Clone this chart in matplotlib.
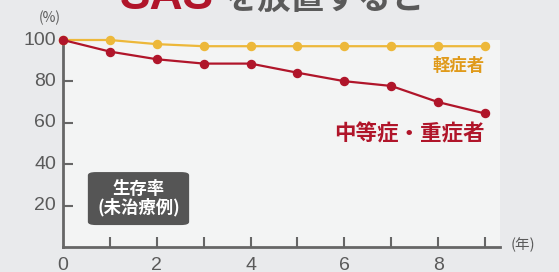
import matplotlib.pyplot as plt
from matplotlib.patches import FancyBboxPatch
import numpy as np

years = np.arange(0, 10)
mild = [100, 100, 98, 97, 97, 97, 97, 97, 97, 97]
severe = [100, 94.4, 90.7, 88.6, 88.6, 84.2, 80.1, 77.8, 70.0, 64.5]
xtick_labels = ['0', '2', '4', '6', '8']
ytick_vals = [20, 40, 60, 80, 100]

RED = '#B0152A'
YELLOW = '#EDB83A'
ORANGE = '#E09A1A'
GRAY = '#5A5A5A'
CJK = ['Noto Sans CJK JP', 'DejaVu Sans']
NUM = ['Liberation Sans', 'Noto Sans CJK JP']

fig = plt.figure(figsize=(5.59, 2.72), dpi=100, facecolor='#E9EAEC')
ax = fig.add_axes([63/559, 25/272, 437/559, 207/272])
ax.set_facecolor('#F3F4F4')

ax.plot(years, mild, color=YELLOW, lw=1.6, marker='o', ms=5.8, clip_on=False, zorder=3)
ax.plot(years, severe, color=RED, lw=1.6, marker='o', ms=5.8, clip_on=False, zorder=4)

ax.set_xlim(0, 9.32)
ax.set_ylim(0, 100)

for s in ['top', 'right']:
    ax.spines[s].set_visible(False)
for s in ['left', 'bottom']:
    ax.spines[s].set_color('#666666')
    ax.spines[s].set_linewidth(2)

ax.set_xticks(range(1, 10))
ax.set_xticklabels([])
ax.tick_params(axis='x', direction='in', length=7, width=1.5, color='#666666')
ax.set_yticks([20, 40, 60, 80])
ax.set_yticklabels([])
ax.tick_params(axis='y', direction='in', length=7, width=1.5, color='#666666')

# tick labels drawn by hand: only even years, no 0 on the y axis
for i, lab in enumerate(xtick_labels):
    ax.text(i * 2, -5, lab, ha='center', va='top', fontsize=14, color=GRAY,
            family=NUM)
for v in ytick_vals:
    ax.text(-0.15, v, str(v), ha='right', va='center', fontsize=14, color=GRAY,
            family=NUM)

ax.text(-0.28, 110.5, '(%)', ha='center', va='center', fontsize=10, color=GRAY, family=CJK)
ax.text(9.8, 1, '(年)', ha='center', va='center', fontsize=10.5, color=GRAY, family=CJK)

ax.text(9, 87.4, '軽症者', ha='right', va='center', fontsize=12.5, color=ORANGE,
        family=CJK, fontweight='bold')
ax.text(9, 54.6, '中等症・重症者', ha='right', va='center', fontsize=15.5, color=RED,
        family=CJK, fontweight='bold')

box = FancyBboxPatch((0.53, 10.6), 2.16, 25.6, boxstyle='round,pad=0,rounding_size=0.17',
                     facecolor='#555555', edgecolor='none', zorder=5,
                     mutation_aspect=9)
ax.add_patch(box)
ax.text(1.61, 23.4, '生存率\n(未治療例)', ha='center', va='center', fontsize=12.5,
        color='white', family=CJK, fontweight='bold', linespacing=1.0, zorder=6)

fig.text(120/559, 1 - 9/272, 'SAS', ha='left', va='baseline', fontsize=33,
         color=RED, family=NUM, fontweight='bold')
fig.text(225/559, 1 - 9/272, 'を放置すると', ha='left', va='baseline', fontsize=24,
         color=GRAY, family=CJK, fontweight='bold')

fig.savefig('out.png', dpi=100, facecolor=fig.get_facecolor())
